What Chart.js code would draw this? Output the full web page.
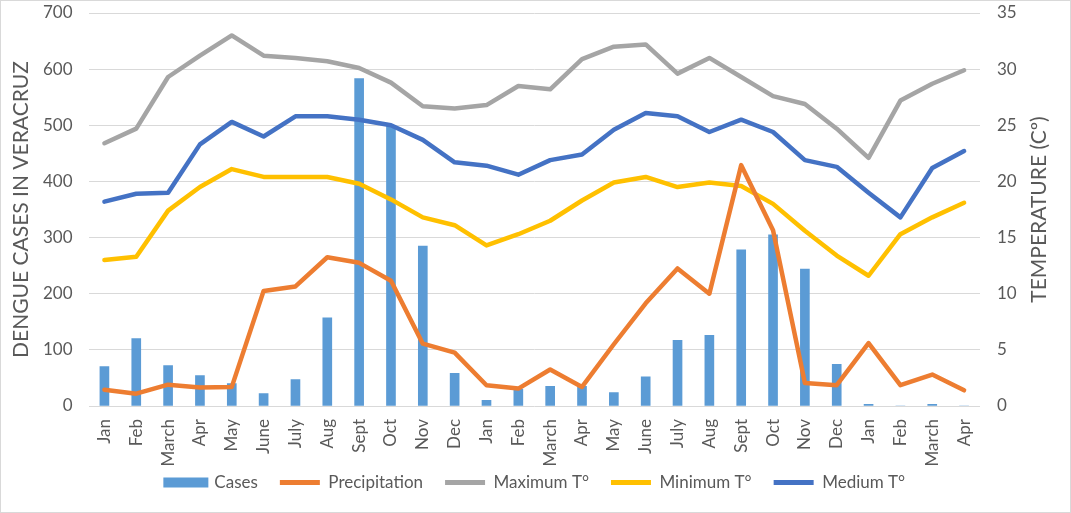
<!DOCTYPE html>
<html>
<head>
<meta charset="utf-8">
<script src="https://cdn.jsdelivr.net/npm/chart.js@4.4.0/dist/chart.umd.min.js"></script>
<style>
  html, body { margin: 0; padding: 0; background: #fff; }
  #wrap { position: relative; width: 1071px; height: 513px; }
  #frame { position: absolute; left: 0; top: 0; right: 0; bottom: 0; border: 1px solid #d9d9d9; pointer-events: none; }
</style>
</head>
<body>
<div id="wrap">
  <canvas id="chart"></canvas>
  <div id="frame"></div>
</div>
<script>
// months, Jan of year 1 to Apr of year 3
const months = ['Jan', 'Feb', 'March', 'Apr', 'May', 'June', 'July', 'Aug', 'Sept', 'Oct', 'Nov', 'Dec',
                'Jan', 'Feb', 'March', 'Apr', 'May', 'June', 'July', 'Aug', 'Sept', 'Oct', 'Nov', 'Dec',
                'Jan', 'Feb', 'March', 'Apr'];

// left axis (cases / mm)
const cases = [70, 120, 72, 54, 40, 22, 47, 157, 583, 499, 285, 58,
               10, 30, 35, 35, 24, 52, 117, 126, 278, 305, 244, 74,
               3, 0, 3, 0];
const precipitation = [29, 22, 38, 33, 34, 205, 213, 265, 255, 223, 111, 95,
                       37, 31, 65, 34, 110, 183, 245, 200, 429, 313, 41, 37,
                       112, 37, 56, 28];

// right axis (°C)
const maxTemp = [23.4, 24.7, 29.3, 31.2, 33.0, 31.2, 31.0, 30.7, 30.1, 28.8, 26.7, 26.5,
                 26.8, 28.5, 28.2, 30.9, 32.0, 32.2, 29.6, 31.0, 29.3, 27.6, 26.9, 24.7,
                 22.1, 27.2, 28.7, 29.9];
const minTemp = [13.0, 13.3, 17.4, 19.5, 21.1, 20.4, 20.4, 20.4, 19.8, 18.4, 16.8, 16.1,
                 14.3, 15.3, 16.5, 18.3, 19.9, 20.4, 19.5, 19.9, 19.6, 18.0, 15.6, 13.4,
                 11.6, 15.3, 16.8, 18.1];
const medTemp = [18.2, 18.9, 19.0, 23.3, 25.3, 24.0, 25.8, 25.8, 25.5, 25.0, 23.7, 21.7,
                 21.4, 20.6, 21.9, 22.4, 24.6, 26.1, 25.8, 24.4, 25.5, 24.4, 21.9, 21.3,
                 19.0, 16.8, 21.2, 22.7];

const leftTicks = [0, 700, 100];
const rightTicks = [0, 35, 5];

const textGray = '#595959';
const fontFamily = 'Lato, "Open Sans", sans-serif';

// right axis title reads bottom-to-top like the left one
const rightTitle = {
    id: 'rightTitle',
    afterDraw(chart) {
        const s = chart.scales.y1;
        const ctx = chart.ctx;
        ctx.save();
        ctx.translate(s.left + 59, (chart.chartArea.top + chart.chartArea.bottom) / 2);
        ctx.rotate(-Math.PI / 2);
        ctx.font = '21px ' + fontFamily;
        ctx.fillStyle = textGray;
        ctx.textAlign = 'center';
        ctx.textBaseline = 'middle';
        ctx.fillText('TEMPERATURE (Cº)', 0, 0);
        ctx.restore();
    }
};

// pull the legend up a little, closer to the month labels
const legendLift = {
    id: 'legendLift',
    afterLayout(chart) {
        if (chart.legend) {
            chart.legend.top -= 18;
            chart.legend.bottom -= 18;
        }
    }
};

function lineSet(label, data, color) {
    return {
        type: 'line', label, data, yAxisID: label === 'Precipitation' ? 'y' : 'y1',
        borderColor: color, backgroundColor: color, borderWidth: 4.5,
        pointRadius: 0, tension: 0, borderJoinStyle: 'round', borderCapStyle: 'round',
        order: 0
    };
}

function noPad(s) {
    s.paddingTop = 0;
    s.paddingBottom = 0;
}

new Chart(document.getElementById('chart'), {
    data: {
        labels: months,
        datasets: [
            { type: 'bar', label: 'Cases', data: cases, yAxisID: 'y',
              backgroundColor: '#5B9BD5', barThickness: 9, order: 10 },
            lineSet('Precipitation', precipitation, '#ED7D31'),
            lineSet('Maximum T°', maxTemp, '#A5A5A5'),
            lineSet('Minimum T°', minTemp, '#FFC000'),
            lineSet('Medium T°', medTemp, '#4472C4')
        ]
    },
    options: {
        responsive: true,
        maintainAspectRatio: false,
        animation: false,
        layout: { padding: { top: 13, left: 0, right: 0, bottom: -6 } },
        plugins: {
            tooltip: { enabled: false },
            legend: {
                position: 'bottom',
                labels: {
                    color: textGray,
                    font: { family: fontFamily, size: 17 },
                    boxWidth: 40,
                    boxHeight: 5,
                    padding: 22,
                    sort: (a, b) => a.datasetIndex - b.datasetIndex,
                    generateLabels(chart) {
                        const items = Chart.defaults.plugins.legend.labels.generateLabels(chart);
                        items.forEach(it => {
                            const ds = chart.data.datasets[it.datasetIndex];
                            if (ds.type === 'bar') {
                                it.lineWidth = 5;
                                it.strokeStyle = ds.backgroundColor;
                            } else {
                                it.fillStyle = ds.borderColor;
                                it.lineWidth = 0;
                            }
                        });
                        return items;
                    }
                }
            }
        },
        scales: {
            x: {
                grid: { display: false, drawTicks: false },
                border: { display: false },
                ticks: { color: textGray, font: { family: fontFamily, size: 17 },
                         minRotation: 90, maxRotation: 90, autoSkip: false, padding: 13 },
                afterFit(s) { s.height = 64; }
            },
            y: {
                position: 'left',
                min: leftTicks[0], max: leftTicks[1],
                ticks: { stepSize: leftTicks[2], color: textGray, padding: 16,
                         font: { family: fontFamily, size: 17 } },
                grid: { color: '#D9D9D9', lineWidth: 1, drawTicks: false },
                border: { display: false },
                title: { display: true, text: 'DENGUE CASES IN VERACRUZ', color: textGray,
                         font: { family: fontFamily, size: 21 }, padding: { top: 9, bottom: 0 } },
                afterFit(s) { s.width = 88.5; noPad(s); }
            },
            y1: {
                position: 'right',
                min: rightTicks[0], max: rightTicks[1],
                ticks: { stepSize: rightTicks[2], color: textGray, padding: 17,
                         font: { family: fontFamily, size: 17 } },
                grid: { display: false, drawTicks: false },
                border: { display: false },
                afterFit(s) { s.width = 91; noPad(s); }
            }
        }
    },
    plugins: [rightTitle, legendLift]
});
</script>
</body>
</html>
